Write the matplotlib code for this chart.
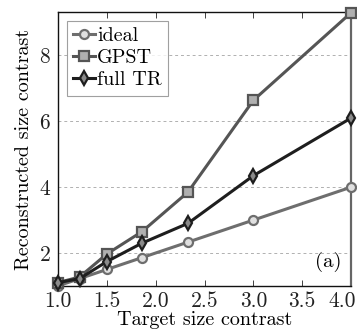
import numpy as np
import matplotlib
matplotlib.use("Agg")
import matplotlib.pyplot as plt
import matplotlib.transforms as mtransforms

# values
target = [1.0, 1.22, 1.5, 1.86, 2.33, 3.0, 4.0]
ideal = [1.0, 1.22, 1.5, 1.86, 2.33, 3.0, 4.0]
gpst = [1.1, 1.27, 1.97, 2.65, 3.85, 6.64, 9.3]
full_tr = [1.1, 1.22, 1.74, 2.3, 2.9, 4.35, 6.1]

plt.rcParams["font.family"] = ["cmr10", "DejaVu Serif"]
plt.rcParams["axes.formatter.use_mathtext"] = True
plt.rcParams["mathtext.fontset"] = "cm"

fig = plt.figure(figsize=(3.57, 3.34), dpi=100)
ax = fig.add_axes([0.1625, 0.144, 0.821, 0.820])

ax.plot(target, ideal, "-o", color="#6e6e6e", lw=2.2, ms=6.5, mfc="#e0e0e0", mew=1.6,
        label="ideal", clip_on=False, zorder=3)
ax.plot(target, gpst, "-s", color="#555555", lw=2.2, ms=6.5, mfc="#b0b0b0", mew=1.6,
        label="GPST", clip_on=False, zorder=4)
ax.plot(target, full_tr, "-d", color="#1e1e1e", lw=2.2, ms=7.5, mfc="#8a8a8a", mew=1.6,
        label="full TR", clip_on=False, zorder=5)

ax.set_xlim(1.0, 4.0)
ax.set_ylim(1.0, 9.32)
ax.set_xticks([1.0, 1.5, 2.0, 2.5, 3.0, 3.5, 4.0])
ax.set_xticklabels(["1.0", "1.5", "2.0", "2.5", "3.0", "3.5", "4.0"])
ax.set_yticks([2, 4, 6, 8])
ax.tick_params(direction="in", labelsize=15.5, length=4, width=0.6, top=True,
               colors="#222222", pad=4)
ax.tick_params(axis="y", length=0, pad=5)
ax.yaxis.grid(True, ls=(0, (3, 3)), color="#b0b0b0", lw=0.7)
ax.set_axisbelow(True)

# last x label is pushed left so it stays inside the figure
lab = ax.get_xticklabels()[-1]
lab.set_transform(lab.get_transform() +
                  mtransforms.ScaledTranslation(-9 / 100, 0, fig.dpi_scale_trans))

for s in ["left", "top", "bottom"]:
    ax.spines[s].set_color("#111111")
    ax.spines[s].set_linewidth(1.0)
ax.spines["right"].set_color("#666666")
ax.spines["right"].set_linewidth(1.6)

ax.set_xlabel("Target size contrast", fontsize=14.5, labelpad=0)
ax.set_ylabel("Reconstructed size contrast", fontsize=14.5, labelpad=4)

ax.text(0.967, 0.05, "(a)", transform=ax.transAxes, ha="right", va="bottom",
        fontsize=15)

leg = ax.legend(loc="upper left", fontsize=14.5, frameon=True, fancybox=False,
                borderpad=0.3, handlelength=1.1, handletextpad=0.1,
                labelspacing=0.2, borderaxespad=0.45)
leg.get_frame().set_edgecolor("#888888")
leg.get_frame().set_linewidth(0.8)

fig.savefig("out.png", dpi=100)
